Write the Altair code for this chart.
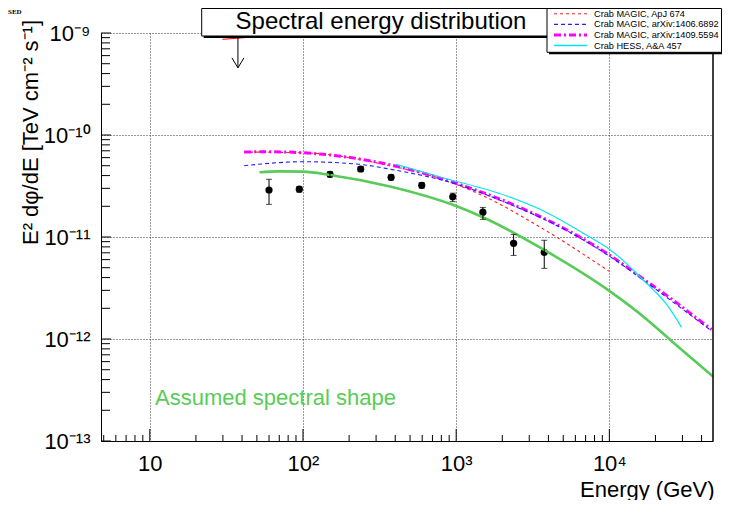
import altair as alt
import pandas as pd

FONT = "Liberation Sans"
GREEN = "#58cc58"

# ---------------- measured SED points ----------------
pt_energy = [60, 94.6, 150, 238, 376, 596, 950, 1494, 2371, 3758]
pt_flux = [2.89e-11, 2.94e-11, 4.12e-11, 4.64e-11, 3.85e-11, 3.21e-11, 2.48e-11, 1.75e-11, 8.67e-12, 7.08e-12]
pt_low = [2.09e-11, 2.76e-11, 3.88e-11, 4.38e-11, 3.62e-11, 3.02e-11, 2.22e-11, 1.49e-11, 6.60e-12, 4.93e-12]
pt_high = [3.68e-11, 3.12e-11, 4.36e-11, 4.90e-11, 4.08e-11, 3.40e-11, 2.69e-11, 1.95e-11, 1.06e-11, 9.29e-12]

# upper limit
ul_energy = [37.6]
ul_flux = [9.2e-10]
ul_tip = [4.55e-10]

# short red segment near the upper limit
seg_energy = [29.8, 44.7]
seg_flux = [8.67e-10, 9.08e-10]

# ---------------- reference curves ----------------
green_energy = [52, 70, 100, 150, 376, 1000, 1494, 3758, 10000, 17800, 24800, 47500]
green_flux = [4.31e-11, 4.40e-11, 4.37e-11, 4.06e-11, 3.11e-11, 2.01e-11, 1.56e-11, 7.46e-12, 2.96e-12, 1.53e-12, 9.9e-13, 4.3e-13]

red_energy = [41.3, 100, 376, 778, 1494, 3500, 10000]
red_flux = [6.8e-11, 6.7e-11, 4.97e-11, 3.76e-11, 2.54e-11, 1.26e-11, 4.6e-12]

blue_energy = [41.3, 100, 233, 376, 1000, 2120, 5780, 10000, 17860, 26060, 46500]
blue_flux = [5.0e-11, 5.47e-11, 5.16e-11, 4.6e-11, 3.3e-11, 2.17e-11, 1.07e-11, 6.5e-12, 3.5e-12, 2.3e-12, 1.2e-12]

magenta_energy = [41.3, 60, 100, 376, 1000, 2120, 5780, 10000, 17860, 26060, 37930, 46500]
magenta_flux = [6.81e-11, 6.85e-11, 6.70e-11, 5.08e-11, 3.36e-11, 2.22e-11, 1.09e-11, 6.67e-12, 3.6e-12, 2.41e-12, 1.56e-12, 1.24e-12]

cyan_energy = [405, 778, 2123, 3500, 7430, 10000, 12900, 15800, 19300, 23600, 29600]
cyan_flux = [5.16e-11, 3.9e-11, 2.54e-11, 1.88e-11, 1.0e-11, 7.6e-12, 5.52e-12, 4.08e-12, 3.05e-12, 2.2e-12, 1.30e-12]

legend_labels = ["Crab MAGIC, ApJ 674", "Crab MAGIC, arXiv:1406.6892",
                 "Crab MAGIC, arXiv:1409.5594", "Crab HESS, A&A 457"]

# axis ticks
x_major = [10, 100, 1000, 10000]
x_minor = [m * 10 ** e for e in range(0, 5) for m in range(2, 10) if 4.8 < m * 10 ** e < 47500]
y_major = [1e-13, 1e-12, 1e-11, 1e-10, 1e-9]
y_minor = [m * 10.0 ** e for e in range(-13, -9) for m in range(2, 10)]

W, H = 612, 408
xs = alt.Scale(type="log", domain=[4.8, 47500], nice=False)
ys = alt.Scale(type="log", domain=[1e-13, 1e-9], nice=False)

x_axis = alt.Axis(
    values=x_major,
    labelExpr="datum.value < 50 ? '10' : datum.value < 500 ? '10\u00b2' : datum.value < 5000 ? '10\u00b3' : '10\u2074'",
    ticks=False, grid=True, gridDash=[1, 2], gridColor="#333333",
    domainColor="black", labelFontSize=22, labelColor="black", labelPadding=12,
    title="Energy (GeV)", titleFontSize=22, titleColor="black",
    titleX=613, titleY=55, titleAlign="right", titleBaseline="alphabetic",
)
y_axis = alt.Axis(
    values=y_major,
    labelExpr="datum.value < 5e-13 ? '10\u207b\u00b9\u00b3' : datum.value < 5e-12 ? '10\u207b\u00b9\u00b2' : "
              "datum.value < 5e-11 ? '10\u207b\u00b9\u00b9' : datum.value < 5e-10 ? '10\u207b\u00b9\u2070' : '10\u207b\u2079'",
    ticks=False, grid=True, gridDash=[1, 2], gridColor="#333333",
    domainColor="black", labelFontSize=22, labelColor="black", labelPadding=11,
    title="E\u00b2 d\u03c6/dE [TeV cm\u207b\u00b2 s\u207b\u00b9]", titleFontSize=22, titleColor="black",
    titleX=-64, titleY=99, titleBaseline="alphabetic",
)


def X(field):
    return alt.X(field, type="quantitative", scale=xs)


def Y(field):
    return alt.Y(field, type="quantitative", scale=ys)


one = pd.DataFrame({"a": [0]})

df_pts = pd.DataFrame({"E": pt_energy, "F": pt_flux, "lo": pt_low, "hi": pt_high})

# points (also carries both axes)
points = alt.Chart(df_pts).mark_point(filled=True, color="black", size=52, opacity=1).encode(
    x=alt.X("E:Q", scale=xs, axis=x_axis), y=alt.Y("F:Q", scale=ys, axis=y_axis)
)
err = alt.Chart(df_pts).mark_rule(color="black", strokeWidth=1).encode(
    x=X("E"), y=Y("lo"), y2=alt.Y2("hi")
)
cap_lo = alt.Chart(df_pts).mark_tick(orient="horizontal", color="black", size=6, thickness=1).encode(
    x=X("E"), y=Y("lo")
)
cap_hi = alt.Chart(df_pts).mark_tick(orient="horizontal", color="black", size=6, thickness=1).encode(
    x=X("E"), y=Y("hi")
)

df_ul = pd.DataFrame({"E": ul_energy, "F": ul_flux, "tip": ul_tip})
ul_shaft = alt.Chart(df_ul).mark_rule(color="black", strokeWidth=1).encode(
    x=X("E"), y=Y("F"), y2=alt.Y2("tip")
)
ul_head = alt.Chart(df_ul).mark_point(
    shape="M -0.6 -1 L 0 0 L 0.6 -1", filled=False, color="black", strokeWidth=1, size=400, opacity=1
).encode(x=X("E"), y=Y("tip"))

seg = alt.Chart(pd.DataFrame({"E": seg_energy, "F": seg_flux})).mark_line(color="red", strokeWidth=1).encode(
    x=X("E"), y=Y("F")
)


def curve(energy, flux, color, width, dash=None):
    kw = dict(color=color, strokeWidth=width, interpolate="monotone", clip=True)
    if dash is not None:
        kw["strokeDash"] = dash
    return alt.Chart(pd.DataFrame({"E": energy, "F": flux})).mark_line(**kw).encode(x=X("E"), y=Y("F"))


c_green = curve(green_energy, green_flux, GREEN, 2.6)
c_red = curve(red_energy, red_flux, "#ff2020", 1.1, [3, 3])
c_magenta = curve(magenta_energy, magenta_flux, "#ff00ff", 3, [7, 3, 2, 3])
c_blue = curve(blue_energy, blue_flux, "#2020ff", 1.1, [4, 3])
c_cyan = curve(cyan_energy, cyan_flux, "#00e5ee", 1.2)

# inside ticks
xt_major = alt.Chart(pd.DataFrame({"v": x_major})).mark_rule(color="black", strokeWidth=1).encode(
    x=X("v"), y=alt.value(H), y2=alt.value(H - 12)
)
xt_minor = alt.Chart(pd.DataFrame({"v": x_minor})).mark_rule(color="black", strokeWidth=1).encode(
    x=X("v"), y=alt.value(H), y2=alt.value(H - 6)
)
yt_major = alt.Chart(pd.DataFrame({"v": y_major})).mark_rule(color="black", strokeWidth=1).encode(
    y=Y("v"), x=alt.value(0), x2=alt.value(10)
)
yt_minor = alt.Chart(pd.DataFrame({"v": y_minor})).mark_rule(color="black", strokeWidth=1).encode(
    y=Y("v"), x=alt.value(0), x2=alt.value(9)
)
right_border = alt.Chart(one).mark_rule(color="black", strokeWidth=1.5).encode(
    x=alt.value(W), y=alt.value(0), y2=alt.value(H)
)


def box(x1, x2, y1, y2):
    shadow = alt.Chart(one).mark_rect(fill="black").encode(
        x=alt.value(x1 + 2), x2=alt.value(x2 + 2), y=alt.value(y1 + 2), y2=alt.value(y2 + 2)
    )
    main = alt.Chart(one).mark_rect(fill="white", stroke="black", strokeWidth=1).encode(
        x=alt.value(x1), x2=alt.value(x2), y=alt.value(y1), y2=alt.value(y2)
    )
    return [shadow, main]


def text(t, x, y, size, color="black", align="left", baseline="alphabetic", font=FONT, weight="normal"):
    return alt.Chart(one).mark_text(
        text=t, align=align, baseline=baseline, font=font, fontSize=size, color=color, fontWeight=weight
    ).encode(x=alt.value(x), y=alt.value(y))


title_layers = box(100.7, 459, -24.5, 3) + [text("Spectral energy distribution", 280, -4.5, 24, align="center")]

legend_layers = box(446, 620.5, -24.5, 19.3)
rows = [-19.2, -8.6, 2.0, 12.6]
styles = [("#ff2020", 1.1, [3, 3]), ("#2020ff", 1.1, [4, 3]), ("#ff00ff", 3, [7, 3, 2, 3]), ("#00e5ee", 1.5, None)]
for lab, ry, (col, wdt, dash) in zip(legend_labels, rows, styles):
    kw = dict(color=col, strokeWidth=wdt)
    if dash is not None:
        kw["strokeDash"] = dash
    legend_layers.append(
        alt.Chart(one).mark_rule(**kw).encode(x=alt.value(453), x2=alt.value(486), y=alt.value(ry))
    )
    legend_layers.append(text(lab, 493, ry, 9.2, baseline="middle"))

annot = [
    text("Assumed spectral shape", 54, 372, 22, color=GREEN),
    text("SED", -93, -19, 7, font="Liberation Serif", weight="bold"),
]

chart = alt.layer(
    points, c_green, c_red, c_magenta, c_blue, c_cyan, seg, err, cap_lo, cap_hi,
    ul_shaft, ul_head, xt_major, xt_minor, yt_major, yt_minor, right_border,
    *title_layers, *legend_layers, *annot,
).properties(
    width=W, height=H,
    padding={"left": 93, "top": 25, "right": 9, "bottom": 59},
    autosize=alt.AutoSizeParams(type="none"),
    background="white",
).configure_view(
    stroke=None
).configure_axis(
    labelFont=FONT, titleFont=FONT, titleFontWeight="normal", domainWidth=1, gridWidth=1, gridOpacity=1
)

chart.save("out.html", embed_options={"renderer": "svg", "actions": False})
